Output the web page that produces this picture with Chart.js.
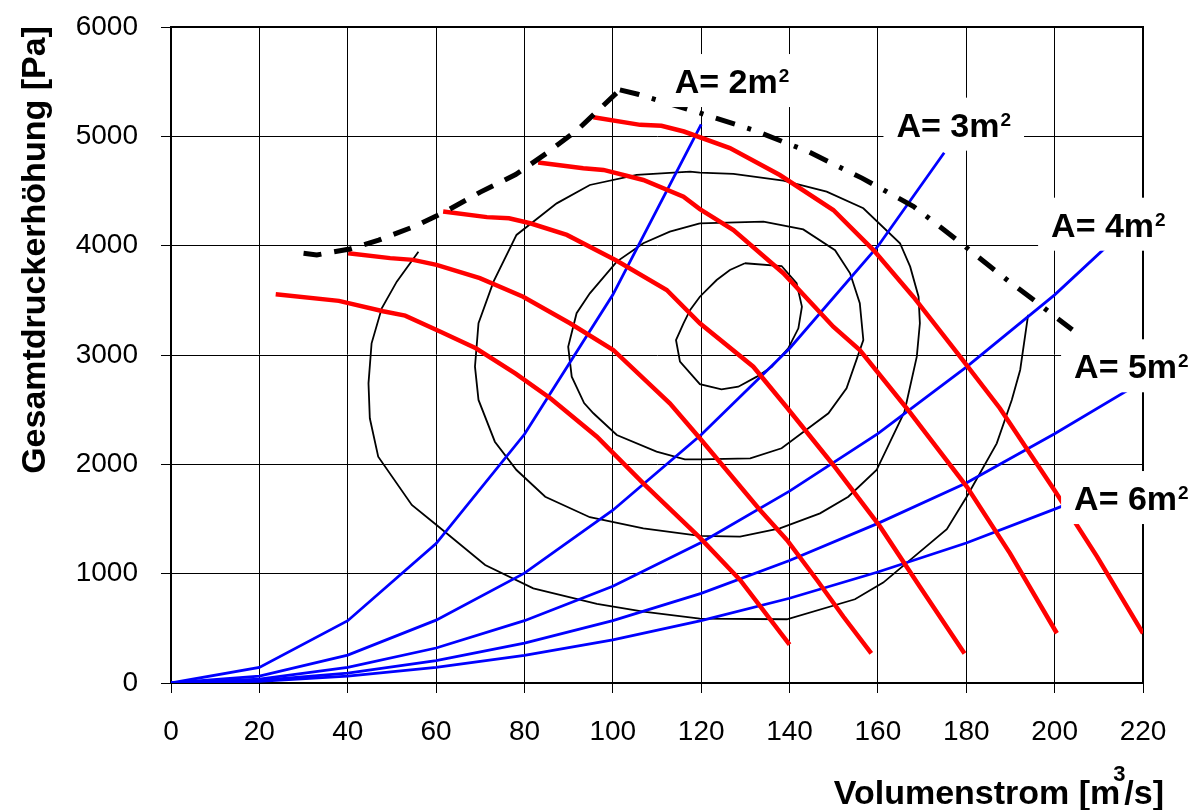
<!DOCTYPE html>
<html>
<head>
<meta charset="utf-8">
<title>Kennfeld</title>
<script src="https://cdn.jsdelivr.net/npm/chart.js@4.4.1/dist/chart.umd.min.js"></script>
<style>
  html, body { margin: 0; padding: 0; background: #fff; }
  #wrap { width: 1201px; height: 810px; }
</style>
</head>
<body>
<div id="wrap"><canvas id="chart" width="1201" height="810"></canvas></div>
<script>
/* Ventilator-Kennfeld — Chart.js scatter with lines */
const flowTicks = [0, 20, 40, 60, 80, 100, 120, 140, 160, 180, 200, 220];
const pressureTicks = [0, 1000, 2000, 3000, 4000, 5000, 6000];

// Anlagenkennlinien (blau), [Volumenstrom, Druck]
const systemA2 = [[0, 0], [20, 142], [40, 570], [60, 1275], [80, 2275], [100, 3550], [120, 5110]];
const systemA3 = [[0, 0], [20, 63], [40, 255], [60, 575], [80, 1005], [100, 1580], [120, 2270], [140, 3060], [160, 3995], [175, 4850]];
const systemA4 = [[0, 0], [20, 36], [40, 142], [60, 320], [80, 570], [100, 885], [120, 1285], [140, 1755], [160, 2280], [180, 2890], [200, 3550], [220, 4300]];
const systemA5 = [[0, 0], [20, 23], [40, 91], [60, 205], [80, 365], [100, 570], [120, 820], [140, 1120], [160, 1460], [180, 1830], [200, 2280], [220, 2760]];
const systemA6 = [[0, 0], [20, 16], [40, 63], [60, 142], [80, 253], [100, 395], [120, 570], [140, 775], [160, 1015], [180, 1280], [200, 1590], [220, 1910]];

// Ventilatorkennlinien (rot)
const fan1 = [[23.7, 3555], [38, 3495], [48, 3400], [53, 3360], [61, 3213], [69, 3061], [78, 2830], [86, 2600], [96.4, 2253], [106.9, 1826], [119.7, 1330], [128.8, 942], [140, 350]];
const fan2 = [[40.1, 3930], [49.6, 3886], [54.8, 3870], [60.1, 3824], [69.9, 3703], [79.7, 3533], [90.3, 3290], [100.1, 3046], [112.9, 2558], [119.7, 2238], [133.3, 1582], [139.4, 1308], [146.2, 942], [152.2, 606], [158.5, 270]];
const fan3 = [[61.6, 4312], [71.5, 4261], [76.5, 4250], [81.3, 4205], [89.6, 4098], [100.9, 3862], [112.2, 3595], [119.7, 3290], [131.8, 2893], [139, 2540], [149.9, 1994], [160.5, 1430], [169.5, 881], [179.6, 270]];
const fan4 = [[83.1, 4760], [93.3, 4708], [97.9, 4693], [106.9, 4601], [116, 4448], [119.7, 4335], [127.3, 4143], [138.6, 3748], [149.9, 3259], [155.9, 3046], [166.5, 2513], [180.1, 1796], [189.9, 1186], [200.5, 455]];
const fan5 = [[95.6, 5175], [106.2, 5105], [111, 5096], [116.1, 5044], [126.5, 4892], [137.8, 4646], [149.9, 4326], [159, 3960], [168, 3533], [178.6, 2985], [187.6, 2513], [200, 1760], [209.6, 1156], [220, 455]];

// Pumpgrenze (gestrichelt) und Grenzlinie (strichpunktiert)
const surgeLine = [[30, 3930], [33, 3915], [40.5, 3970], [47, 4050], [55, 4175], [62, 4310], [70, 4490], [78, 4650], [85, 4845], [92, 5060], [101.6, 5425]];
const limitLine = [[101.6, 5425], [105.7, 5385], [118.7, 5227], [131.7, 5059], [144.2, 4861], [156.4, 4618], [168.1, 4358], [175, 4144], [178.8, 4023], [185.4, 3809], [189.7, 3672], [196.2, 3474], [200.1, 3351], [204, 3230]];

// Wirkungsgrad-Muscheln (schwarz)
const eta1 = [[129.9, 3839], [138.2, 3814], [141.6, 3656], [142.8, 3442], [142, 3244], [139.7, 3061], [136, 2893], [132.6, 2802], [128.4, 2710], [124.6, 2686], [119.7, 2733], [115.2, 2939], [114.3, 3137], [116, 3290], [117.5, 3412], [119.7, 3533], [123.5, 3686], [126.5, 3778], [129.9, 3839]];
const eta2 = [[119.7, 4204], [134.1, 4219], [143.1, 4149], [150.3, 3958], [153.7, 3747], [155.9, 3473], [156.7, 3137], [152.9, 2695], [148.8, 2467], [138.2, 2147], [131.1, 2055], [119.7, 2046], [116.3, 2046], [109.9, 2116], [100.9, 2268], [95.6, 2467], [93.5, 2560], [90.7, 2802], [89.9, 3076], [91.8, 3382], [94.8, 3564], [100.9, 3854], [106.9, 4022], [112.9, 4128], [119.7, 4204]];
const eta3 = [[119.7, 4668], [127.3, 4656], [138.6, 4594], [148.4, 4494], [156.7, 4342], [165, 4022], [167.3, 3808], [169.2, 3533], [169.5, 3290], [168.8, 2985], [166, 2480], [159.7, 1948], [153.3, 1704], [146.9, 1552], [137.8, 1415], [128.8, 1338], [119.7, 1345], [106.9, 1415], [94.8, 1516], [84.7, 1704], [78.2, 1948], [73.3, 2207], [69.6, 2589], [68.8, 2893], [69.6, 3290], [73, 3671], [78.2, 4098], [87.3, 4387], [94.8, 4555], [105.4, 4647], [117.5, 4677], [119.7, 4668]];
const eta4 = [[56, 3945], [51.1, 3671], [47.7, 3427], [45.4, 3107], [44.7, 2741], [45, 2421], [46.9, 2070], [54.5, 1628], [60.1, 1445], [71.1, 1079], [82, 866], [96.4, 723], [106.9, 652], [119.7, 588], [139.4, 583], [154.8, 766], [161.2, 918], [175.6, 1406], [180.1, 1704], [186.9, 2192], [190.3, 2589], [192.2, 2863], [194, 3366]];

// Beschriftungen der Anlagenkennlinien
const areaLabels = ['2', '3', '4', '5', '6'];
const labelFlow = [114, 164.2, 199.2, 204.4, 204.4];
const labelPressure = [5396, 4997, 4082, 2787, 1582];

const FONT = 'Arial, "Liberation Sans", sans-serif';
const pts = arr => arr.map(([x, y]) => ({ x, y }));

function curve(data, color, width, order, dash) {
    return {
        data: pts(data),
        showLine: true,
        borderColor: color,
        backgroundColor: color,
        borderWidth: width,
        borderDash: dash || [],
        pointRadius: 0,
        pointHoverRadius: 0,
        fill: false,
        tension: 0,
        order: order,
    };
}

const datasets = [
    curve(surgeLine, '#000', 5, 0, [18, 13]),
    curve(limitLine, '#000', 5, 0, [20, 13, 4, 13]),
    ...[fan1, fan2, fan3, fan4, fan5].map(d => curve(d, '#ff0000', 4.5, 1)),
    ...[systemA2, systemA3, systemA4, systemA5, systemA6].map(d => curve(d, '#0000ff', 2.8, 2)),
    ...[eta1, eta2, eta3, eta4].map(d => curve(d, '#000', 1.8, 3)),
];

const decorations = {
    id: 'decorations',
    beforeDatasetsDraw(chart) {
        const { ctx, chartArea: a } = chart;
        ctx.save();
        ctx.strokeStyle = '#000';
        ctx.lineWidth = 2;
        ctx.strokeRect(a.left, a.top, a.right - a.left, a.bottom - a.top);
        ctx.restore();
    },
    afterDatasetsDraw(chart) {
        const { ctx } = chart;
        const xs = chart.scales.x, ys = chart.scales.y;
        ctx.save();
        ctx.textBaseline = 'alphabetic';
        ctx.textAlign = 'left';
        areaLabels.forEach((n, i) => {
            const left = xs.getPixelForValue(labelFlow[i]);
            const base = ys.getPixelForValue(labelPressure[i]);
            const main = 'A= ' + n + 'm';
            ctx.font = 'bold 34px ' + FONT;
            const w1 = ctx.measureText(main).width;
            ctx.font = 'bold 19px ' + FONT;
            const w2 = ctx.measureText('2').width;
            ctx.fillStyle = '#fff';
            ctx.fillRect(left - 13, base - 39, w1 + w2 + 27, 53);
            ctx.fillStyle = '#000';
            ctx.font = 'bold 34px ' + FONT;
            ctx.fillText(main, left, base);
            ctx.font = 'bold 19px ' + FONT;
            ctx.fillText('2', left + w1 + 1, base - 11);
        });

        // y title
        ctx.save();
        ctx.translate(36, 250);
        ctx.rotate(-Math.PI / 2);
        ctx.textAlign = 'center';
        ctx.textBaseline = 'middle';
        ctx.font = 'bold 34px ' + FONT;
        ctx.fillText('Gesamtdruckerhöhung [Pa]', 0, 0);
        ctx.restore();

        // x title with raised exponent
        ctx.font = 'bold 34px ' + FONT;
        const head = 'Volumenstrom [m', tail = '/s]';
        const wh = ctx.measureText(head).width, wt = ctx.measureText(tail).width;
        const start = 1164 - (wh + 4 + wt);
        ctx.fillText(head, start, 804);
        ctx.fillText(tail, start + wh + 4, 804);
        ctx.font = 'bold 22px ' + FONT;
        ctx.fillText('3', start + wh - 7, 781);
        ctx.restore();
    },
};

new Chart(document.getElementById('chart'), {
    type: 'scatter',
    data: { datasets },
    options: {
        responsive: false,
        animation: false,
        events: [],
        layout: { padding: { left: 0, right: 58, top: 27, bottom: 0 } },
        plugins: { legend: { display: false }, tooltip: { enabled: false } },
        scales: {
            x: {
                type: 'linear',
                min: 0,
                max: 220,
                afterBuildTicks: s => { s.ticks = flowTicks.map(v => ({ value: v })); },
                afterFit: s => { s.height = 127; },
                ticks: { color: '#000', font: { family: FONT, size: 28 }, padding: 22, maxRotation: 0, autoSkip: false, callback: v => String(v) },
                grid: { color: '#000', lineWidth: 1, tickLength: 10 },
                border: { color: '#000', width: 2 },
            },
            y: {
                type: 'linear',
                min: 0,
                max: 6000,
                afterBuildTicks: s => { s.ticks = pressureTicks.map(v => ({ value: v })); },
                afterFit: s => { s.width = 171; s.paddingTop = 0; s.paddingBottom = 0; },
                ticks: { color: '#000', font: { family: FONT, size: 28 }, padding: 23, autoSkip: false, callback: v => String(v) },
                grid: { color: '#000', lineWidth: 1, tickLength: 10 },
                border: { color: '#000', width: 2 },
            },
        },
    },
    plugins: [decorations],
});
</script>
</body>
</html>
